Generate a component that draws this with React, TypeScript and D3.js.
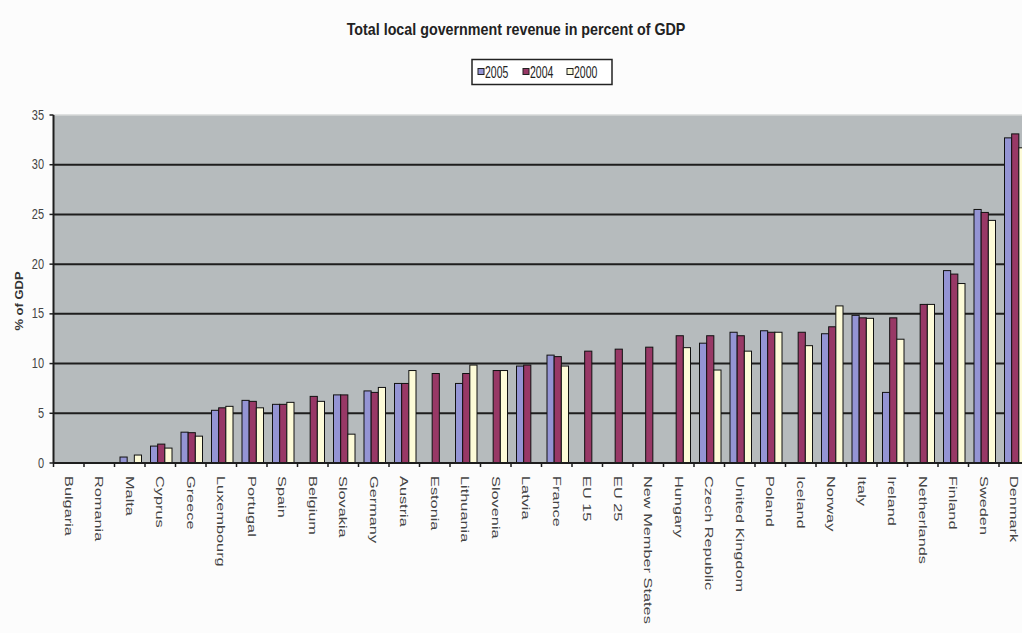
import React from "react";
import * as d3 from "d3";

const categories = ["Bulgaria","Romania","Malta","Cyprus","Greece","Luxembourg","Portugal","Spain","Belgium","Slovakia","Germany","Austria","Estonia","Lithuania","Slovenia","Latvia","France","EU 15","EU 25","New Member States","Hungary","Czech Republic","United Kingdom","Poland","Iceland","Norway","Italy","Ireland","Netherlands","Finland","Sweden","Denmark"];
const seriesNames = ["2005", "2004", "2000"];
const v2005 = [null,null,0.6,1.7,3.1,5.3,6.3,5.9,null,6.85,7.25,8.0,null,8.0,null,9.75,10.85,null,null,null,null,12.05,13.15,13.3,null,13.0,14.85,7.1,null,19.35,25.5,32.7];
const v2004 = [null,null,null,1.9,3.05,5.55,6.2,5.9,6.7,6.85,7.1,8.0,9.0,9.0,9.3,9.85,10.7,11.25,11.45,11.65,12.8,12.8,12.8,13.15,13.15,13.7,14.6,14.6,15.95,19.0,25.2,33.1];
const v2000 = [null,null,0.8,1.5,2.7,5.7,5.55,6.1,6.2,2.9,7.6,9.3,null,9.85,9.3,null,9.75,null,null,null,11.6,9.35,11.25,13.15,11.8,15.8,14.55,12.45,15.95,18.05,24.4,31.7];
const yTicks = [0, 5, 10, 15, 20, 25, 30, 35];
const colors = ["#9494d4", "#983866", "#fdfbd8"];
const FONT = "'Liberation Sans', Arial, sans-serif";

export default function App() {
  const W = 1022, H = 633;
  const left = 53.5, right = 1029.5, top = 115, bottom = 463;
  const x = d3.scaleBand<string>().domain(categories).range([left, right]).padding(0);
  const step = x.step();
  const inner = d3.scaleBand<string>().domain(seriesNames).range([5.5, step - 3.5]).padding(0);
  const y = d3.scaleLinear().domain([0, 35]).range([bottom, top]);
  const all = [v2005, v2004, v2000];

  return (
    <svg width={W} height={H} style={{ position: "absolute", left: 0, top: 0, background: "#fcfcfc" }} fontFamily={FONT}>
      <rect x={0} y={0} width={W} height={H} fill="#fcfcfc" />
      {/* title */}
      <text transform={`translate(516,35) scale(1.1,1.3)`} textAnchor="middle" fontSize={13} fontWeight="bold" fill="#222">
        Total local government revenue in percent of GDP
      </text>
      {/* legend */}
      <rect x={472} y={59.5} width={140} height={25} fill="#fff" stroke="#222" strokeWidth={1.5} />
      {seriesNames.map((s, i) => {
        const sx = [478, 523, 567][i];
        return (
          <g key={s}>
            <rect x={sx} y={68.5} width={6} height={6} fill={colors[i]} stroke="#222" strokeWidth={1} />
            <text transform={`translate(${sx + 7},77.5) scale(1,1.5)`} fontSize={10.5} fill="#222">{s}</text>
          </g>
        );
      })}
      {/* plot area */}
      <rect x={left} y={top} width={right - left} height={bottom - top} fill="#b6bbbd" />
      {yTicks.map((t) => (
        <line key={t} x1={left} x2={right} y1={y(t)} y2={y(t)}
          stroke={t === 35 ? "#d6d8d8" : "#1e1e1e"} strokeWidth={t === 35 ? 1.5 : 2} />
      ))}
      {/* bars */}
      {all.map((vals, si) => (
        <g key={si}>
          {vals.map((v, ci) => v == null ? null : (
            <rect key={ci}
              x={(x(categories[ci]) as number) + (inner(seriesNames[si]) as number)}
              y={y(v)} width={inner.bandwidth()} height={y(0) - y(v)}
              fill={colors[si]} stroke="#111" strokeWidth={1} />
          ))}
        </g>
      ))}
      {/* axes */}
      <line x1={left} x2={left} y1={top} y2={bottom} stroke="#1e1e1e" strokeWidth={2} />
      <line x1={left} x2={right} y1={bottom} y2={bottom} stroke="#1e1e1e" strokeWidth={2} />
      {yTicks.map((t) => (
        <g key={"yt" + t}>
          <line x1={left - 4} x2={left} y1={y(t)} y2={y(t)} stroke="#1e1e1e" strokeWidth={1.5} />
          <text transform={`translate(44,${y(t) + 4.5}) scale(1,1.3)`} textAnchor="end" fontSize={11} fill="#444">{t}</text>
        </g>
      ))}
      {categories.map((c, i) => (
        <line key={"xt" + i} x1={(x(c) as number)} x2={(x(c) as number)} y1={bottom} y2={bottom + 4} stroke="#1e1e1e" strokeWidth={1.5} />
      ))}
      {categories.map((c) => (
        <text key={"xl" + c}
          transform={`translate(${(x(c) as number) + step / 2},476) rotate(90) scale(1.42,1)`}
          dy="0.35em" fontSize={11.5} fill="#444">{c}</text>
      ))}
      {/* y title */}
      <text transform={`translate(19,301) rotate(-90) scale(1.3,1)`} dy="0.35em" textAnchor="middle" fontSize={10} fontWeight="bold" fill="#333">% of GDP</text>
    </svg>
  );
}
